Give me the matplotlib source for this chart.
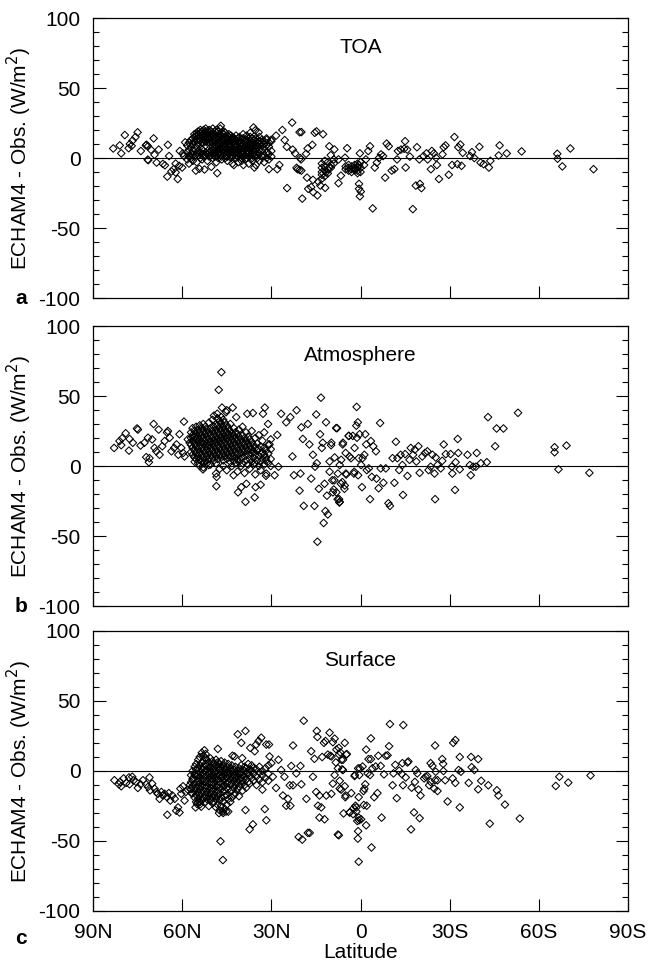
import numpy as np
import matplotlib.pyplot as plt
from matplotlib.ticker import MultipleLocator

plt.rcParams['font.family'] = ['Liberation Sans', 'DejaVu Sans']
plt.rcParams['axes.unicode_minus'] = False

# Latitude in degrees (north positive), difference in W/m2.
# Scattered stations: (lat, value) pairs
toa_points = [
    (83.2, 6.8), (80.5, 3.3), (79.3, 16.4), (81.0, 9.0), (77.6, 10.0), (76.7, 12.4),
    (75.7, 15.0), (75.0, 18.3), (78.0, 7.0), (77.0, 8.7), (73.9, 5.0), (72.2, 9.0),
    (72.0, 9.5), (71.5, 8.4), (71.6, -1.2), (71.4, -1.5), (70.5, 5.9), (69.6, 14.0),
    (69.3, 2.3), (68.6, -3.3), (67.9, 6.0), (66.5, -4.2), (65.8, -5.2), (65.0, -13.3),
    (64.4, 1.4), (64.8, 9.4), (63.6, -9.6), (62.9, -8.0), (62.2, -4.0), (62.2, -10.3),
    (61.5, -15.0), (61.0, -5.6), (60.8, 5.0), (60.0, -6.8), (59.4, 1.4), (59.0, 11.2),
    (59.8, 3.3), (55.4, -9.0), (54.2, -7.7), (52.5, -8.2), (50.2, -6.3), (48.2, -10.8),
    (42.6, -5.0), (39.4, -5.0), (35.7, -6.8), (47.0, 23.0), (36.0, 21.8), (35.4, 19.7),
    (34.3, 18.3), (34.0, 15.0),
    (28.4, 16.0), (26.3, 20.0), (23.0, 25.3), (27.3, -5.0), (28.0, -8.0), (24.7, -21.5),
    (22.0, 3.3), (21.2, -8.0), (19.9, 18.5), (19.6, -29.0), (19.9, -9.0), (20.0, -1.0),
    (20.3, 0.0), (17.8, 6.8), (18.3, 3.0), (16.2, 9.4), (14.8, 19.0), (12.6, 17.0),
    (16.6, -20.8), (17.6, -22.0), (15.9, -24.4), (14.5, -26.7), (14.2, -16.9),
    (13.5, -19.7), (13.1, -15.0), (11.9, -21.3), (11.6, -10.3), (10.5, -6.8),
    (10.5, 8.4), (8.8, 6.1), (7.4, -1.0), (7.4, -18.0), (6.6, -12.6), (5.2, 0.2),
    (4.5, 7.0), (3.1, -8.0), (2.0, -8.7), (1.0, -6.8), (0.5, -5.0), (1.0, -10.8),
    (0.5, -18.5), (0.5, -22.0), (0.2, -27.4), (-0.1, -24.0), (0.2, 3.3), (-1.2, -5.0),
    (-1.8, -1.0), (-2.6, 5.0), (-3.2, 8.4), (-4.1, -36.0), (-4.8, -6.8), (-5.5, -3.3),
    (-6.2, 0.0), (-6.9, 2.6), (-7.6, 1.4), (-8.3, -14.0), (-8.8, 10.3), (-9.5, 8.4),
    (-10.5, -9.0), (-11.4, -8.0), (-12.3, -1.0), (-12.6, 5.0), (-13.6, 6.0),
    (-14.7, 6.6), (-15.0, 12.0), (-15.2, -6.8), (-15.7, 6.0), (-16.6, 1.0),
    (-17.6, -36.5), (-18.6, -19.7), (-19.0, 7.7), (-19.8, -1.0), (-20.0, -18.5),
    (-20.5, -21.5), (-21.2, 1.4), (-22.2, 3.3), (-22.6, -1.0), (-23.7, -8.0),
    (-24.0, 5.0), (-24.7, 3.3), (-25.4, 0.2), (-25.7, -5.0), (-26.4, -15.0),
    (-27.6, 2.6), (-28.0, 7.7), (-28.6, 9.0), (-29.7, -12.0), (-30.8, -5.0),
    (-31.6, 15.0), (-32.6, -4.4), (-32.9, 7.7), (-33.6, 9.6), (-34.0, -5.6),
    (-34.4, 3.7), (-36.9, 1.4), (-37.5, 4.2), (-38.3, 0.0), (-40.0, 8.0),
    (-40.4, -3.3), (-41.4, -4.4), (-43.2, -6.8), (-43.7, -2.0), (-46.5, 1.8),
    (-46.8, 9.0), (-49.2, 3.3), (-54.2, 4.7), (-66.2, 3.0), (-66.3, -0.5),
    (-67.9, -6.0), (-70.6, 6.8), (-78.4, -8.0),
    (25.5, 12.8), (20.5, 18.4), (15.4, 18.0), (24.8, 8.0), (22.8, 6.0),
    (21.5, -7.0), (20.5, -8.5), (18.0, -14.0), (16.0, -15.6),
]

# Dense station groups: latitude -> values
toa_columns = {
    58.3: [4, 9, -1], 57.7: [1, 6, 11, -4], 57.0: [3, 8, 13, 0],
    56.4: [5, 10, 14, -2, 2], 55.9: [1, 7, 12, 15, 17], 55.1: [3, 9, 13, 16, 18, -3],
    54.6: [2, 5, 11, 14, 17, 19], 53.9: [0, 4, 10, 13, 15, 18, 20],
    53.3: [3, 6, 11, 14, 16, 19, -1], 52.8: [1, 5, 11, 13, 15, 17, 20],
    52.1: [2, 4, 12, 14, 16, 18, 19, 21], 51.5: [3, 5, 11, 13, 15, 17, 19, -2],
    50.9: [1, 4, 11, 14, 16, 18, 20], 50.3: [2, 5, 10, 12, 15, 17, 19],
    49.7: [3, 6, 8, 11, 13, 16, 18, 21, 0], 49.0: [1, 4, 7, 9, 12, 14, 17, 19],
    48.5: [2, 5, 8, 10, 13, 15, 18, 20, -3], 47.9: [0, 3, 6, 9, 11, 14, 16, 19],
    47.2: [2, 4, 7, 10, 12, 15, 17, 21], 46.7: [1, 5, 8, 11, 13, 16, 18, -1],
    46.0: [3, 6, 9, 12, 14, 17, 19], 45.5: [0, 2, 5, 8, 10, 13, 15, 18],
    44.8: [1, 4, 7, 11, 14, 16, -2], 44.3: [3, 6, 9, 12, 15, 17],
    43.6: [0, 2, 5, 8, 10, 13, 16], 43.1: [1, 4, 7, 11, 14, 15, -4],
    42.4: [3, 6, 9, 12, 14], 41.9: [0, 2, 5, 8, 10, 13, 16],
    41.2: [1, 4, 7, 11, 14, -3], 40.7: [2, 6, 9, 12, 15],
    40.0: [0, 3, 5, 8, 11, 13, -2], 39.5: [1, 4, 7, 10, 14, 17],
    38.8: [2, 6, 9, 12, -1], 38.3: [0, 3, 5, 8, 11, 13, 16],
    37.6: [1, 4, 7, 10, 14, -4], 37.1: [2, 6, 9, 12, 15, 18],
    36.4: [0, 3, 5, 8, 11, 14, -2], 35.9: [1, 4, 7, 10, 13],
    35.2: [2, 6, 9, 12, 14, -5], 34.7: [0, 4, 8, 11, 13], 34.0: [3, 6, 10, 12, -2],
    33.2: [1, 5, 9, 11, 13], 32.4: [2, 7, 10, 12, -3], 31.6: [0, 4, 9, 13, 14],
    30.8: [3, 8, 11, -1, -8], 30.0: [1, 5, 12, 13],
    13.0: [-4, -7, -10, -12], 12.0: [-2, -6, -9, -13], 11.0: [-3, -8, -11],
    10.0: [-5, -7, 2], 9.0: [-1, -4], 5.0: [-6, -8], 4.0: [-5, -9, -7],
    3.0: [-6, -10], 2.0: [-5, -8, -7], 1.0: [-4, -9, -6], 0.0: [-7, -10, -3],
}

atm_points = [
    (82.9, 12.9), (81.1, 17.8), (80.5, 14.9), (80.2, 19.8), (79.0, 23.4), (77.9, 11.0),
    (77.7, 19.3), (76.6, 16.6), (75.2, 26.8), (74.9, 26.0), (74.0, 14.6), (72.7, 16.6),
    (72.1, 6.3), (71.5, 20.2), (71.2, 2.7), (71.0, 5.6), (69.6, 30.0), (70.1, 19.0),
    (69.3, 12.9), (68.7, 10.5), (67.9, 26.0), (67.6, 8.0), (66.7, 14.1), (65.9, 17.8),
    (65.1, 23.9), (64.8, 25.0), (64.2, 20.2), (63.6, 10.5), (62.7, 12.9), (61.9, 15.4),
    (61.3, 8.0), (60.9, 22.7), (60.3, 12.9), (59.7, 9.3), (59.4, 31.7), (59.2, 6.8),
    (58.1, 19.0), (57.5, 16.6),
    (53.0, -2.4), (52.7, 2.0), (51.1, 0.7), (48.6, -5.4), (48.4, -7.8), (48.5, -14.4),
    (47.7, 54.4), (46.8, 67.0), (48.2, 37.3), (46.6, 41.7), (45.2, 38.5), (43.0, 41.7),
    (45.0, 39.8), (41.8, 34.9), (42.7, -6.6), (41.2, -18.8), (40.1, -15.1),
    (38.7, -25.6), (38.4, -12.7), (38.1, 37.3), (36.2, 37.8), (35.6, -22.4),
    (35.3, -15.1), (33.6, -13.4), (32.8, 37.3), (32.2, 41.7), (31.7, -5.4),
    (31.1, 30.0), (30.6, 15.4), (28.9, -6.6), (28.0, 22.2), (27.6, -0.5), (26.7, 37.3),
    (25.0, 31.2), (23.6, 34.9), (22.9, 6.8), (22.4, -6.6), (21.5, 39.8), (20.5, -17.6),
    (20.2, -5.4), (19.9, 27.6), (19.4, 19.3), (19.1, -28.5), (17.7, 30.0), (17.2, 15.4),
    (16.6, -9.0), (16.0, 8.0), (15.5, -28.5), (15.3, -0.5), (14.9, 36.8), (14.7, 2.0),
    (14.5, -54.1), (14.0, -16.3), (13.6, 22.7), (13.3, 48.8), (13.0, 12.9),
    (12.7, 16.6), (12.4, -40.7), (12.1, -12.7), (11.8, -32.2), (11.6, 31.2),
    (11.3, -21.2), (11.0, -34.6), (10.4, -4.1), (9.9, 14.9), (9.3, -18.8),
    (8.8, -10.2), (8.2, 27.1), (7.7, -23.7), (7.1, -26.1), (6.6, -12.7), (6.0, 15.4),
    (5.4, -16.3), (4.9, -5.4), (4.0, 21.5), (3.2, 5.6), (2.1, -4.1), (1.3, 42.2),
    (0.9, 31.2),
    (10.4, 3.2), (9.8, 16.6), (8.7, 6.1), (7.9, 27.0), (7.6, -5.4), (7.0, 0.7),
    (6.5, 4.4), (9.5, -10.2), (9.0, -16.8), (8.1, -18.8), (7.2, -23.7), (7.0, -25.6),
    (6.1, -11.5), (5.3, -13.9), (5.9, 16.6), (5.0, 9.3), (4.8, -6.1), (3.9, 21.5),
    (3.7, 6.8), (2.6, 21.5), (2.2, -5.4), (2.0, 12.9), (1.4, 28.8), (1.2, 20.2),
    (0.8, -6.6), (0.6, 5.6), (0.3, 22.7), (-0.2, 0.7), (-0.5, -15.1), (-0.7, 5.6),
    (-1.3, 8.0), (-1.6, 22.7), (-1.9, 15.4), (-2.1, -2.9), (-2.8, -1.7), (-3.2, -23.7),
    (-3.5, 17.8), (-3.8, -7.8), (-4.3, 14.1), (-5.2, 10.5), (-5.4, -9.0), (-6.1, -15.9),
    (-6.6, 30.7), (-6.8, -1.7), (-7.7, -12.0), (-8.5, -1.7), (-9.4, -26.6),
    (-9.9, -28.5), (-10.8, 5.6), (-11.4, -12.0), (-11.9, 17.3), (-12.4, 5.6),
    (-13.0, -2.9), (-13.5, 8.0), (-14.1, 0.7), (-14.3, -20.7), (-15.0, 8.5),
    (-15.8, -7.1), (-16.5, 4.4), (-16.9, 12.9), (-17.7, 8.0), (-18.3, 11.7),
    (-18.8, 3.2), (-19.5, 14.1), (-19.9, -4.9), (-20.8, 6.8), (-21.7, 9.3),
    (-22.5, 10.5), (-22.9, -2.9), (-23.6, -0.5), (-24.2, 8.0), (-24.9, -5.4),
    (-25.1, -23.7), (-25.3, 6.1), (-25.9, 0.7), (-27.0, -1.7), (-27.5, 3.7),
    (-28.0, 15.4), (-28.7, 8.5), (-30.3, 8.5), (-30.7, -0.5), (-30.9, -5.4),
    (-31.8, -17.1), (-32.0, 2.7), (-32.7, 19.3), (-32.9, 9.3), (-33.4, -2.4),
    (-36.0, 8.0), (-36.8, 0.7), (-37.1, -6.6), (-37.9, -0.5), (-38.8, -0.5),
    (-39.1, 9.3), (-40.5, 2.0), (-42.5, 2.7), (-42.9, 34.9), (-45.3, 14.1),
    (-45.8, 26.8), (-48.1, 26.8), (-53.0, 38.0), (-65.3, 13.4), (-65.3, 9.8),
    (-66.6, -2.4), (-69.3, 14.6), (-77.0, -4.9),
]

atm_columns = {
    57.0: [10, 15, 20, 24], 56.5: [8, 13, 18, 22, 27], 55.8: [6, 11, 16, 21, 25, 3],
    55.3: [9, 14, 19, 23, 5, 28], 54.6: [7, 12, 17, 21, 26, 2],
    54.1: [5, 10, 15, 19, 24, 29, 0], 53.4: [8, 13, 17, 22, 27, 3],
    52.9: [6, 11, 16, 20, 25, 30, -1], 52.2: [4, 9, 14, 18, 23, 28],
    51.7: [7, 12, 16, 21, 26, 2], 51.0: [5, 10, 15, 19, 24, 31],
    50.5: [8, 13, 17, 22, 27, 1], 49.8: [6, 11, 16, 20, 25, 33],
    49.3: [4, 9, 14, 18, 23, 28, 36], 48.6: [7, 12, 17, 21, 26, 30, 2],
    48.1: [5, 10, 15, 19, 24, 29, 34], 47.4: [8, 13, 18, 22, 27, 32, -2],
    46.9: [6, 11, 16, 20, 25, 30, 35], 46.2: [4, 9, 14, 19, 23, 28, 33, 0],
    45.7: [7, 12, 17, 21, 26, 31], 45.0: [5, 10, 15, 20, 24, 29, -3],
    44.5: [8, 13, 18, 22, 27], 43.8: [3, 6, 11, 16, 21, 25, 30],
    43.3: [9, 14, 19, 23, 0], 42.6: [4, 7, 12, 17, 22, 27], 42.1: [10, 15, 20, 24, 2],
    41.4: [5, 8, 13, 18, 23, -4], 40.9: [3, 11, 16, 21, 26], 40.2: [6, 9, 14, 19, 0],
    39.7: [2, 12, 17, 22, 28], 39.0: [7, 10, 15, 20, -5], 38.5: [4, 13, 18, 24],
    37.8: [1, 8, 11, 16, 21], 37.3: [5, 14, 19, -2], 36.6: [3, 9, 12, 17, 25],
    36.0: [6, 10, 15, 1], 35.4: [2, 8, 13, 20, -6], 34.8: [4, 11, 16],
    34.2: [0, 7, 12, 22], 33.6: [3, 9, 14, -3], 33.0: [5, 10, 18],
    32.4: [1, 8, 13, 24], 31.8: [4, 6, 11, -7], 31.0: [2, 9, 15], 30.2: [0, 5, 12, 19],
}

sfc_points = [
    (82.8, -6.6), (81.3, -9.5), (80.9, -7.8), (80.5, -10.9), (79.7, -5.3), (78.8, -8.5),
    (77.9, -4.6), (77.7, -9.5), (76.8, -4.1), (76.3, -6.6), (75.5, -7.8), (74.9, -12.1),
    (74.0, -9.5), (73.2, -6.6), (72.1, -9.5), (71.5, -11.4), (71.0, -4.6), (70.8, -13.8),
    (70.1, -9.0), (69.3, -12.6), (68.7, -15.0), (68.2, -16.3), (67.6, -19.9),
    (67.0, -15.0), (66.5, -17.5), (65.9, -16.3), (65.1, -18.7), (65.0, -31.3),
    (64.5, -15.8), (64.0, -21.1), (63.3, -17.5), (62.5, -19.9), (62.0, -28.4),
    (61.4, -26.0), (60.9, -29.6), (60.6, -12.6), (60.3, -16.3), (59.7, -10.9),
    (59.2, -21.1), (58.8, -15.0), (58.1, -13.3), (57.5, -10.2), (56.9, -15.8),
    (56.4, -5.3), (55.8, -2.9), (55.5, -26.0), (55.0, -23.5), (54.1, -22.3),
    (53.6, -25.5), (52.5, 14.8), (52.1, 12.1), (50.8, -19.9), (48.0, 15.8),
    (47.6, -30.1), (47.1, -50.2), (46.3, -63.6), (46.3, -28.9), (45.2, -28.9),
    (43.1, 10.9), (42.4, 10.4), (41.3, 26.2), (40.1, 20.1), (39.8, 9.2), (38.7, 28.6),
    (38.7, -27.9), (37.3, -41.7), (37.1, 16.5), (36.2, -38.1), (35.6, 14.1),
    (35.1, 18.9), (34.3, 21.4), (33.4, 23.8), (33.0, -13.3), (32.2, -27.2),
    (31.7, 18.9), (31.7, -35.2), (30.8, 18.9), (30.6, 10.4), (30.0, 5.6),
    (29.5, -4.1), (28.4, -12.1), (27.6, 8.0), (26.7, 0.7), (26.1, -17.5),
    (25.6, -4.1), (25.0, -24.8), (24.4, -19.9), (23.8, -10.2), (23.6, -24.8),
    (23.3, 3.6), (22.7, 18.2), (22.7, -10.2), (21.6, -1.7), (20.8, -47.1),
    (20.2, 3.6), (19.9, -9.5), (19.6, -49.0), (19.1, 35.9), (18.2, -19.9),
    (17.7, -44.2), (17.1, -44.2), (16.6, 14.1), (16.0, -4.1), (15.5, 8.7),
    (14.9, -15.0), (14.7, 28.6), (14.5, 24.3), (14.3, -24.8), (13.8, -17.5),
    (13.8, -33.3), (13.2, -26.0), (12.9, 10.0), (12.3, 20.1), (12.1, -34.5),
    (11.8, 21.4), (11.5, -17.5), (11.0, 11.7), (10.4, 27.4), (10.2, 10.9),
    (9.8, -16.3), (9.3, 20.6), (8.7, 23.1), (8.1, 15.3), (7.6, -45.4), (7.2, 11.7),
    (7.0, -12.6), (6.4, 8.0), (5.9, 0.7), (5.3, 20.1), (5.1, -18.7), (4.8, 11.7),
    (3.6, -29.6), (2.5, -30.8), (1.9, -2.9), (1.4, -26.0), (0.8, -43.0),
    (0.6, -64.8), (0.5, -35.2), (0.8, 1.9),
    (9.8, 10.4), (9.3, -9.0), (8.7, -2.9), (8.3, 6.1), (7.6, 1.9), (7.3, 16.5),
    (7.3, -45.9), (7.0, -7.0), (6.8, 13.3), (6.5, -13.3), (6.2, 1.2), (5.9, 8.0),
    (5.7, -30.3), (5.3, -10.9), (5.0, -17.5), (4.6, 12.1), (3.7, -29.6),
    (3.1, -15.8), (2.3, -26.5), (2.0, -3.6), (1.7, -24.8), (1.4, -28.9),
    (1.1, -35.7), (0.9, -48.3), (0.6, -18.7), (0.6, -33.3), (0.4, -2.9),
    (0.2, 1.9), (-0.2, -34.5), (-0.7, 3.2), (-1.0, -14.3), (-1.1, -24.3),
    (-1.3, -12.6), (-1.6, -9.5), (-1.9, -38.8), (-1.9, 15.3), (-2.1, -24.8),
    (-2.4, -1.7), (-2.7, 8.5), (-3.2, -2.9), (-3.5, 23.3), (-3.5, 8.5),
    (-3.7, -54.6), (-4.0, 1.9), (-4.6, -18.7), (-5.1, 3.2), (-5.7, -15.8),
    (-6.0, 10.9), (-6.8, 3.6), (-7.1, -33.3), (-7.9, -2.4), (-8.5, 10.9),
    (-9.1, 11.2), (-9.6, 17.7), (-9.9, 33.5), (-10.8, -10.2), (-11.1, -1.7),
    (-11.7, 4.4), (-12.2, -19.4), (-13.0, 0.2), (-13.9, -2.2), (-14.1, 5.6),
    (-14.3, -10.2), (-14.4, 32.8), (-15.2, -4.6), (-15.8, 6.1), (-16.1, 6.8),
    (-17.0, -41.7), (-17.2, -11.9), (-18.0, -29.6), (-18.3, -7.8), (-18.6, 0.7),
    (-19.1, -1.7), (-19.5, -13.3), (-19.9, -33.7), (-20.2, -17.5), (-21.4, -5.3),
    (-21.9, -4.1), (-22.5, -3.6), (-23.1, -10.2), (-23.6, 5.6), (-23.6, -7.8),
    (-24.2, 3.6), (-24.8, -12.6), (-25.1, -6.6), (-25.1, 18.2), (-25.3, -0.5),
    (-25.9, -6.6), (-25.9, -14.3), (-27.5, 8.5), (-27.8, 5.1), (-27.9, 0.0),
    (-28.5, -6.6), (-29.3, -21.8), (-31.0, -5.3), (-31.2, 20.1), (-31.9, 22.1),
    (-31.9, -8.5), (-33.0, 0.7), (-33.4, 10.0), (-33.4, -26.0), (-33.8, -0.5),
    (-36.4, -8.5), (-37.2, 10.0), (-37.4, 2.7), (-38.3, 0.7), (-39.6, 8.5),
    (-39.6, -13.1), (-40.6, -7.0), (-43.0, -10.2), (-43.5, -37.6), (-45.9, -13.8),
    (-46.4, -17.5), (-48.6, -24.0), (-53.6, -34.0), (-65.7, -10.7), (-66.9, -4.1),
    (-69.9, -8.3), (-77.4, -3.2),
]

sfc_columns = {
    57.0: [-3, -8, -13], 56.5: [0, -6, -11, -16], 55.8: [3, -2, -9, -14, -19],
    55.3: [5, 1, -4, -12, -17, -22], 54.6: [8, 2, -3, -7, -10, -15, -20],
    54.1: [10, 4, -1, -5, -9, -13, -18, -24], 53.4: [13, 6, 1, -3, -7, -11, -16, -21],
    52.9: [11, 7, 3, -2, -6, -10, -14, -19], 52.2: [9, 5, 0, -4, -8, -12, -17, -22],
    51.7: [8, 4, 1, -3, -7, -11, -15, -20], 51.0: [6, 2, -2, -5, -9, -13, -18, -25],
    50.5: [9, 3, 0, -4, -8, -12, -16, -21], 49.8: [7, 1, -3, -6, -10, -14, -19, -23],
    49.3: [5, 2, -1, -5, -9, -13, -17, -22], 48.6: [8, 4, 0, -4, -7, -11, -15, -20, -26],
    48.1: [6, 3, -2, -6, -10, -14, -18, -24], 47.4: [5, 1, -3, -8, -12, -16, -21, -28],
    46.9: [7, 2, -1, -5, -9, -13, -19, -25], 46.2: [4, 0, -4, -7, -11, -15, -22, -30],
    45.7: [6, 1, -2, -6, -10, -14, -18, -27], 45.0: [3, -1, -5, -9, -12, -17, -24],
    44.5: [5, 0, -3, -8, -13, -20, -29], 43.8: [2, -2, -6, -10, -15, -22],
    43.3: [4, 0, -4, -9, -14, -19], 42.6: [1, -3, -7, -12, -17],
    42.1: [3, -1, -5, -10, -16], 41.4: [0, -4, -8, -13], 40.9: [2, -2, -6, -11, -18],
    40.2: [4, -1, -5, -9], 39.7: [1, -3, -7, -14], 39.0: [3, 0, -4, -10],
    38.5: [2, -2, -6, -12], 37.8: [5, -1, -8], 37.3: [1, -3, -9], 36.6: [4, 0, -5],
    36.0: [-2, -7, 2], 35.0: [1, -4, -10], 34.0: [3, -1, -6], 33.0: [0, -3, -8],
    32.0: [2, -5], 31.0: [-2, -7, 4],
}

panels = [
    ('TOA', 'a', toa_points, toa_columns),
    ('Atmosphere', 'b', atm_points, atm_columns),
    ('Surface', 'c', sfc_points, sfc_columns),
]
lat_ticks = [90, 60, 30, 0, -30, -60, -90]
lat_labels = ['90N', '60N', '30N', '0', '30S', '60S', '90S']

W, H = 659, 966
fig = plt.figure(figsize=(W / 100, H / 100), dpi=100)
tops = [18, 326, 631]
ph = 280

for (title, letter, pts, cols), top in zip(panels, tops):
    ax = fig.add_axes([93 / W, 1 - (top + ph) / H, 535 / W, ph / H])
    lat = [p[0] for p in pts]
    val = [p[1] for p in pts]
    for k, vs in cols.items():
        lat += [k] * len(vs)
        val += list(vs)
    ax.scatter(lat, val, marker='D', s=15, facecolors='none',
               edgecolors='black', linewidths=0.75, zorder=3)
    ax.axhline(0, color='black', lw=0.8, zorder=2)

    ax.set_xlim(90, -90)
    ax.set_ylim(-100, 100)
    ax.set_xticks(lat_ticks)
    ax.set_yticks([-100, -50, 0, 50, 100])
    ax.yaxis.set_minor_locator(MultipleLocator(10))
    ax.tick_params(which='major', direction='in', length=9, width=0.8,
                   right=True, top=False, labelsize=15, pad=9)
    ax.tick_params(which='minor', direction='in', length=4, width=0.8,
                   right=True, top=False)
    for s in ax.spines.values():
        s.set_linewidth(0.9)
    if letter == 'c':
        ax.set_xticklabels(lat_labels)
        ax.set_xlabel('Latitude', fontsize=15, labelpad=0)
    else:
        ax.set_xticklabels([])
    ax.set_ylabel('ECHAM4 - Obs. (W/m$^2$)', fontsize=15)
    ax.yaxis.set_label_coords(-0.11, 0.5)
    ax.text(0.5, 0.895, title, transform=ax.transAxes, ha='center',
            va='center', fontsize=15)
    ly = top + ph + (28 if letter == 'c' else 0)
    fig.text(15 / W, 1 - ly / H, letter, fontsize=15, fontweight='bold',
             ha='left', va='center')

fig.savefig('out.png', dpi=100)
